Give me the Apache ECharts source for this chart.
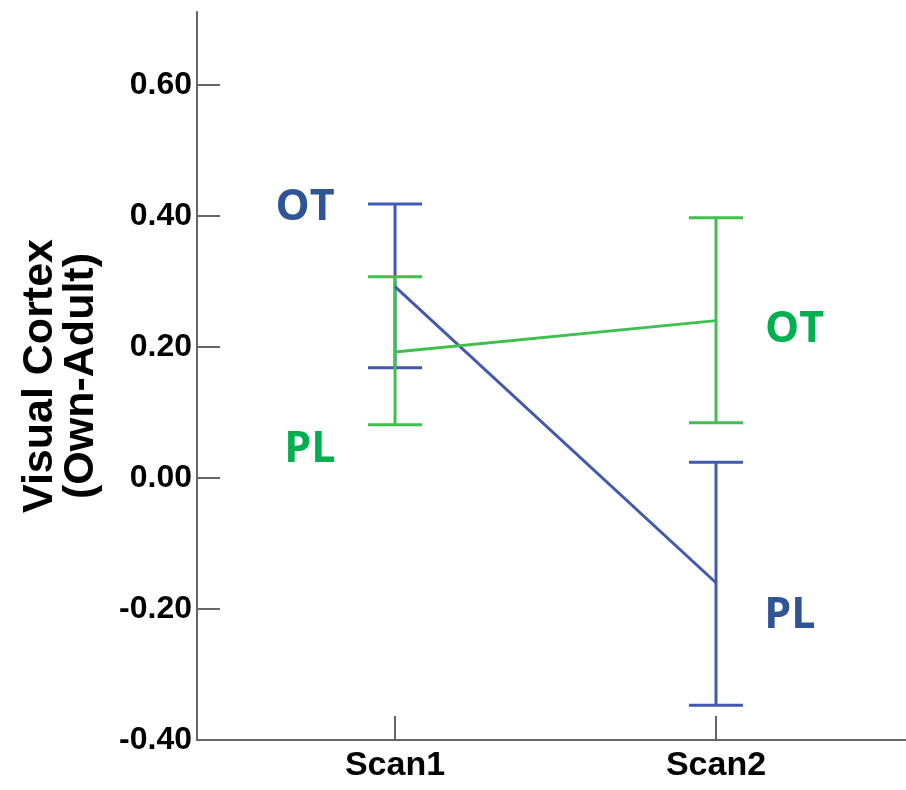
<!DOCTYPE html>
<html>
<head>
<meta charset="utf-8">
<script src="https://cdn.jsdelivr.net/npm/echarts@6/dist/echarts.min.js"></script>
<style>
  html, body { margin: 0; padding: 0; background: #fff; }
  #main { width: 906px; height: 790px; }
</style>
</head>
<body>
<div id="main"></div>
<script>
// scans on x (1 = Scan1, 2 = Scan2)
var scans = [1, 2];
var scanLabels = ['Scan1', 'Scan2'];
var yTicks = [-0.4, -0.2, 0, 0.2, 0.4, 0.6];

// blue group
var blueMean = [0.292, -0.160];
var blueUpper = [0.418, 0.024];
var blueLower = [0.168, -0.347];

// green group
var greenMean = [0.192, 0.240];
var greenUpper = [0.307, 0.397];
var greenLower = [0.081, 0.084];

// text labels placed in data coordinates
var notes = [
  { text: 'OT', x: 0.72, y: 0.412, color: '#2F5597' },
  { text: 'PL', x: 2.23, y: -0.211, color: '#2F5597' },
  { text: 'OT', x: 2.245, y: 0.226, color: '#00B050' },
  { text: 'PL', x: 0.735, y: 0.043, color: '#00B050' }
];

var blueLine = '#4159B0';
var greenLine = '#3FBF4E';

function pairs(ys) {
  return scans.map(function (x, i) { return [x, ys[i]]; });
}
function errData(lo, hi) {
  return scans.map(function (x, i) { return [x, lo[i], hi[i]]; });
}

function errRender(color) {
  return function (params, api) {
    var x = api.value(0);
    var lo = api.coord([x, api.value(1)]);
    var hi = api.coord([x, api.value(2)]);
    var w = 27;
    var st = { stroke: color, lineWidth: 3 };
    return {
      type: 'group',
      children: [
        { type: 'line', shape: { x1: lo[0], y1: lo[1], x2: hi[0], y2: hi[1] }, style: st },
        { type: 'line', shape: { x1: hi[0] - w, y1: hi[1], x2: hi[0] + w, y2: hi[1] }, style: st },
        { type: 'line', shape: { x1: lo[0] - w, y1: lo[1], x2: lo[0] + w, y2: lo[1] }, style: st }
      ]
    };
  };
}

var myChart = echarts.init(document.getElementById('main'));
var axisFont = 'Liberation Sans, Arial, sans-serif';

var option = {
  animation: false,
  grid: { left: 197, right: 0, top: 12, bottom: 50, containLabel: false, outerBoundsMode: 'none' },
  xAxis: {
    type: 'value',
    min: 0.383,
    max: 2.592,
    splitLine: { show: false },
    axisLine: { onZero: false, lineStyle: { color: '#666', width: 2 } },
    axisTick: { inside: true, length: 24, customValues: scans, lineStyle: { color: '#666', width: 2 } },
    axisLabel: {
      customValues: scans,
      formatter: function (v) { return scanLabels[scans.indexOf(v)] || ''; },
      color: '#000', fontFamily: axisFont, fontWeight: 'bold', fontSize: 34, margin: 9
    }
  },
  yAxis: {
    type: 'value',
    min: -0.4,
    max: 0.711,
    splitLine: { show: false },
    axisLine: { show: true, onZero: false, lineStyle: { color: '#666', width: 2 } },
    axisTick: { show: true, inside: true, length: 23, customValues: yTicks, lineStyle: { color: '#666', width: 2 } },
    axisLabel: {
      customValues: yTicks,
      formatter: function (v) { return v.toFixed(2); },
      color: '#000', fontFamily: axisFont, fontWeight: 'bold', fontSize: 32, margin: 5
    },
    name: 'Visual Cortex\n(Own-Adult)',
    nameLocation: 'middle',
    nameRotate: 90,
    nameGap: 95,
    nameTextStyle: { color: '#000', fontFamily: axisFont, fontWeight: 'bold', fontSize: 43, lineHeight: 41 }
  },
  series: [
    { type: 'line', data: pairs(blueMean), symbol: 'none', lineStyle: { color: blueLine, width: 3 }, z: 3 },
    { type: 'line', data: pairs(greenMean), symbol: 'none', lineStyle: { color: greenLine, width: 3 }, z: 3 },
    { type: 'custom', data: errData(blueLower, blueUpper), renderItem: errRender(blueLine), z: 2 },
    { type: 'custom', data: errData(greenLower, greenUpper), renderItem: errRender(greenLine), z: 2 }
  ]
};
myChart.setOption(option);

// annotation texts
var g = notes.map(function (n) {
  var p = myChart.convertToPixel({ gridIndex: 0 }, [n.x, n.y]);
  return {
    type: 'text', x: p[0], y: p[1],
    style: {
      text: n.text, fill: n.color, align: 'center', verticalAlign: 'middle',
      font: 'bold 43px "Open Sans", Lato, sans-serif'
    }
  };
});
myChart.setOption({ graphic: g });
</script>
</body>
</html>
